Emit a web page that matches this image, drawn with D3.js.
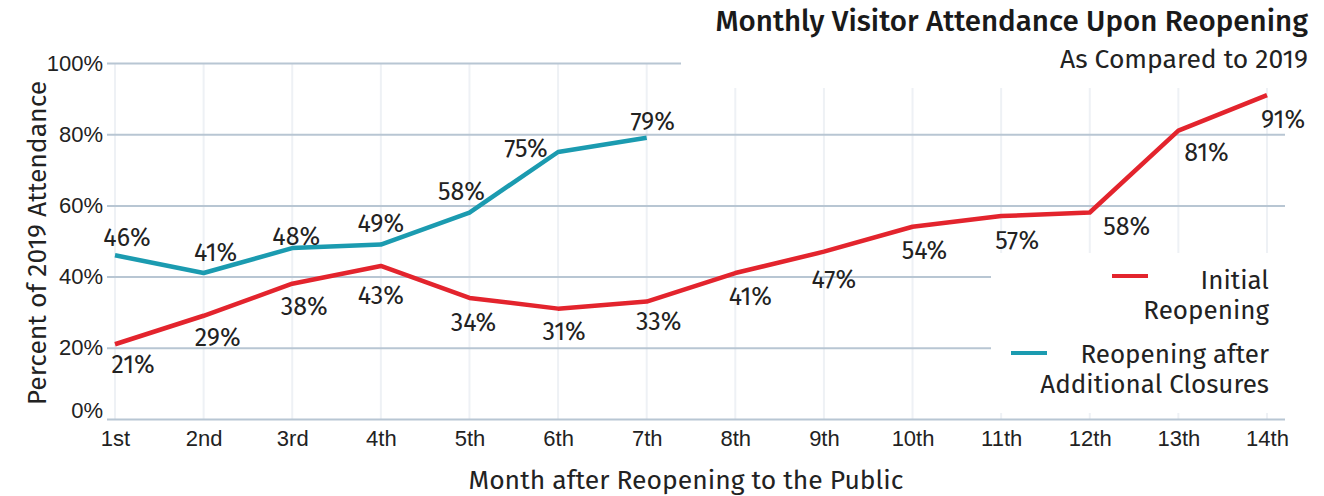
<!DOCTYPE html>
<html>
<head>
<meta charset="utf-8">
<script src="https://cdn.jsdelivr.net/npm/d3@7"></script>
<style>
  html, body { margin: 0; padding: 0; background: #fff; }
  svg { display: block; font-family: "Fira Sans", Roboto, "Noto Sans", sans-serif; }
</style>
</head>
<body>
<svg id="chart" width="1324" height="496"></svg>
<script>
// ---- data ----
const months = ["1st","2nd","3rd","4th","5th","6th","7th","8th","9th","10th","11th","12th","13th","14th"];
const initialReopening = [21,29,38,43,34,31,33,41,47,54,57,58,81,91];
const afterClosures = [46,41,48,49,58,75,79];
const yTicks = [0,20,40,60,80,100];
const seriesNames = ["Initial\nReopening", "Reopening after\nAdditional Closures"];

// label offsets (layout only)
const redLabelOffsets = [[18,21],[14,22],[12,23],[0,30],[4,25],[6,23],[12,20],[15,24],[10,28],[12,24],[16,25],[37,14],[28,22],[16,25]];
const tealLabelOffsets = [[12,-17],[12,-20],[4,-11],[0,-21],[-8,-21],[-32,-3],[6,-16]];

const svg = d3.select("#chart");
const W = 1324, H = 496;
const x = d3.scalePoint().domain(months).range([115, 1267]);
const y = d3.scaleLinear().domain([0, 100]).range([419, 63]);

const red = "#e3242d", teal = "#1b9bb0", gridC = "#b8c6d3", vgridC = "#eef1f5", textC = "#222";

// vertical gridlines
svg.append("g").selectAll("line").data(months).join("line")
  .attr("x1", d => x(d)).attr("x2", d => x(d))
  .attr("y1", y(100)).attr("y2", y(0))
  .attr("stroke", vgridC).attr("stroke-width", 2);

// horizontal gridlines via axis
const yAxis = d3.axisLeft(y).tickValues(yTicks).tickSize(-(1285 - 107)).tickFormat(d => d + "%");
const yg = svg.append("g").attr("transform", "translate(107,0)").call(yAxis);
yg.select(".domain").remove();
yg.selectAll(".tick line").attr("stroke", gridC).attr("stroke-width", 2);
yg.selectAll(".tick text").attr("fill", textC).attr("font-size", 22).attr("x", -4)
  .attr("dy", d => d === 0 ? "-0.05em" : "0.32em");

// white boxes covering grid (title area and legend area)
svg.append("rect").attr("x", 681).attr("y", 0).attr("width", W - 681).attr("height", 88).attr("fill", "#fff");
svg.append("rect").attr("x", 991).attr("y", 253).attr("width", W - 991).attr("height", 160).attr("fill", "#fff");

// x axis labels
const xAxis = d3.axisBottom(x).tickSize(0).tickPadding(11);
const xg = svg.append("g").attr("transform", "translate(0,419)").call(xAxis);
xg.select(".domain").remove();
xg.selectAll(".tick text").attr("fill", textC).attr("font-size", 22);

// lines
const line = d3.line().x((d, i) => x(months[i])).y(d => y(d));
svg.append("path").datum(initialReopening).attr("d", line)
  .attr("fill", "none").attr("stroke", red).attr("stroke-width", 4.5).attr("stroke-linejoin", "round");
svg.append("path").datum(afterClosures).attr("d", line)
  .attr("fill", "none").attr("stroke", teal).attr("stroke-width", 4.5).attr("stroke-linejoin", "round");

// data labels
svg.append("g").selectAll("text").data(initialReopening).join("text")
  .attr("x", (d, i) => x(months[i]) + redLabelOffsets[i][0])
  .attr("y", (d, i) => y(d) + redLabelOffsets[i][1])
  .attr("text-anchor", "middle").attr("dominant-baseline", "central")
  .attr("font-size", 25).attr("fill", textC).text(d => d + "%");
svg.append("g").selectAll("text").data(afterClosures).join("text")
  .attr("x", (d, i) => x(months[i]) + tealLabelOffsets[i][0])
  .attr("y", (d, i) => y(d) + tealLabelOffsets[i][1])
  .attr("text-anchor", "middle").attr("dominant-baseline", "central")
  .attr("font-size", 25).attr("fill", textC).text(d => d + "%");

// title
svg.append("text").attr("x", 1308).attr("y", 31).attr("text-anchor", "end")
  .attr("font-size", 29.5).attr("font-weight", 500).attr("fill", "#1a1a1a")
  .text("Monthly Visitor Attendance Upon Reopening");
svg.append("text").attr("x", 1308).attr("y", 68).attr("text-anchor", "end")
  .attr("font-size", 26.5).attr("fill", textC).text("As Compared to 2019");

// axis titles
svg.append("text").attr("transform", "translate(46,243) rotate(-90)").attr("text-anchor", "middle")
  .attr("font-size", 26.5).attr("fill", textC).text("Percent of 2019 Attendance");
svg.append("text").attr("x", 686).attr("y", 489).attr("text-anchor", "middle")
  .attr("font-size", 26.5).attr("fill", textC).text("Month after Reopening to the Public");

// legend
const legend = [
  { name: seriesNames[0], color: red, sx: 1112, sy: 276, ty: 289 },
  { name: seriesNames[1], color: teal, sx: 1011, sy: 353, ty: 363 }
];
legend.forEach(l => {
  svg.append("line").attr("x1", l.sx).attr("x2", l.sx + 36).attr("y1", l.sy).attr("y2", l.sy)
    .attr("stroke", l.color).attr("stroke-width", 4);
  const t = svg.append("text").attr("x", 1269).attr("y", l.ty).attr("text-anchor", "end")
    .attr("font-size", 26).attr("fill", textC);
  l.name.split("\n").forEach((s, i) => {
    t.append("tspan").attr("x", 1269).attr("dy", i === 0 ? 0 : 29.5).text(s);
  });
});
</script>
</body>
</html>
